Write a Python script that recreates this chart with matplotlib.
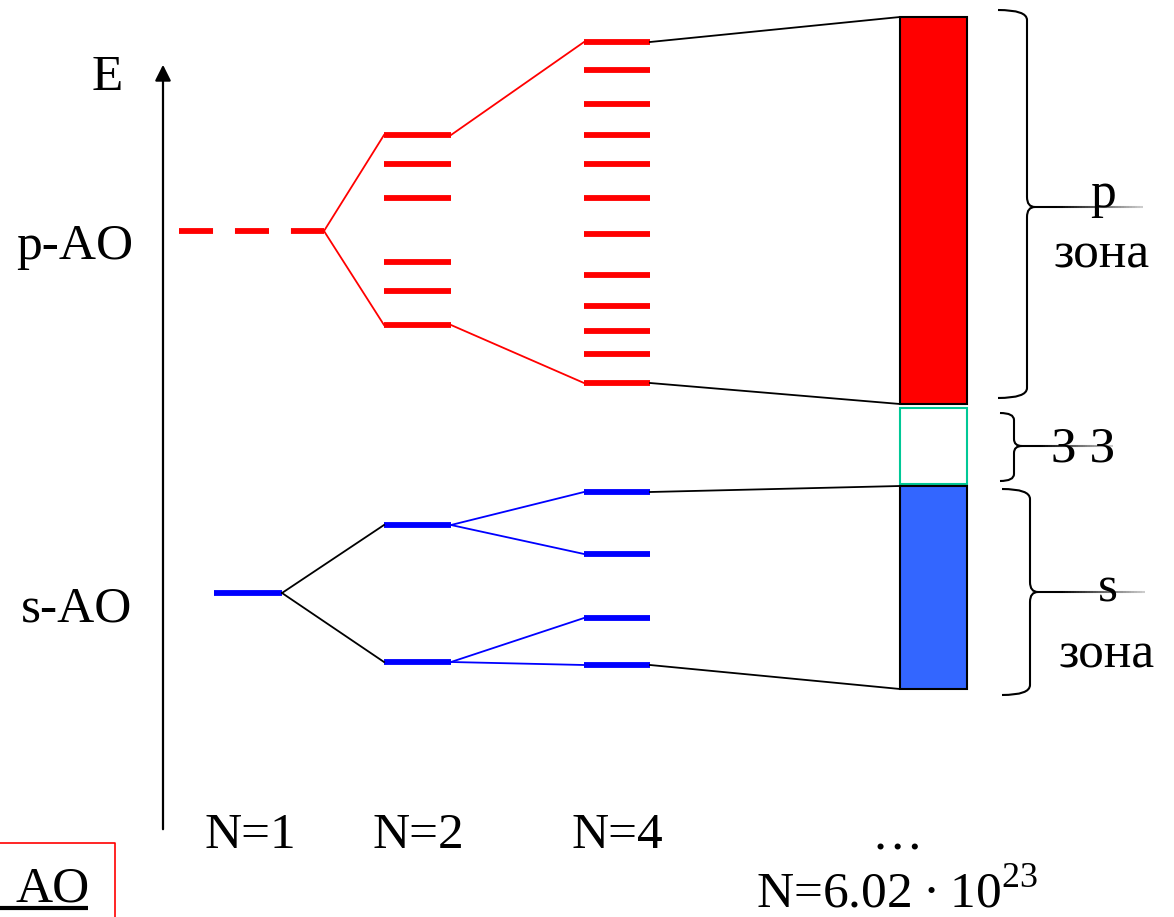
import matplotlib.pyplot as plt
import numpy as np
from matplotlib.path import Path
from matplotlib.patches import PathPatch, Rectangle
from matplotlib.collections import LineCollection

plt.rcParams['font.family'] = ['Liberation Serif', 'DejaVu Serif']
plt.rcParams['mathtext.fontset'] = 'custom'
plt.rcParams['mathtext.rm'] = 'Liberation Serif'
plt.rcParams['lines.scale_dashes'] = False

# energy levels (picture y, top = high energy)
p_ao = 231
p_levels_n2 = [135, 164, 198, 262, 291, 325]
p_levels_n4 = [42, 70, 104, 135, 164, 198, 234, 275, 306, 331, 354, 383]
s_ao = 593
s_levels_n2 = [525, 662]
s_levels_n4 = [492, 554, 618, 665]
p_band = (17, 404)
gap_band = (408, 484)
s_band = (486, 689)

col_labels = ['N=1', 'N=2', 'N=4']

# column x-ranges
x_n1_p = (179, 324)
x_n1_s = (214, 282)
x_n2 = (384, 451)
x_n4 = (584, 650)
x_band = (900, 967)

RED = '#ff0000'
BLUE = '#0000ff'
FS = 37

fig = plt.figure(figsize=(11.74, 9.17), dpi=100)
ax = fig.add_axes([0, 0, 1, 1])
ax.set_xlim(0, 1174)
ax.set_ylim(917, 0)
ax.axis('off')

# energy axis
ax.annotate('', xy=(163, 62), xytext=(163, 832),
            arrowprops=dict(arrowstyle='-|>', lw=1.6, color='black', mutation_scale=24))
ax.text(107, 90, 'E', fontsize=FS, ha='center', va='baseline')
ax.text(75, 259, 'p-AO', fontsize=FS, ha='center', va='baseline')
ax.text(77, 621, 's-AO', fontsize=FS, ha='center', va='baseline')

# p-AO dashed level
ax.plot(x_n1_p, [p_ao, p_ao], color=RED, lw=4.2, ls=(0, (24.5, 15.8)), solid_capstyle='butt',
        dash_capstyle='butt')
# s-AO level
ax.plot(x_n1_s, [s_ao, s_ao], color=BLUE, lw=4.2, solid_capstyle='butt')


def levels(xr, ys, color):
    for y in ys:
        ax.plot(xr, [y, y], color=color, lw=4.2, solid_capstyle='butt')


def link(x0, y0, x1, y1, color, lw=1.3):
    ax.plot([x0, x1], [y0, y1], color=color, lw=lw)


levels(x_n2, p_levels_n2, RED)
levels(x_n4, p_levels_n4, RED)
levels(x_n2, s_levels_n2, BLUE)
levels(x_n4, s_levels_n4, BLUE)

# p splitting
link(x_n1_p[1], p_ao, x_n2[0], p_levels_n2[0], RED)
link(x_n1_p[1], p_ao, x_n2[0], p_levels_n2[-1], RED)
link(x_n2[1], p_levels_n2[0], x_n4[0], p_levels_n4[0], RED)
link(x_n2[1], p_levels_n2[-1], x_n4[0], p_levels_n4[-1], RED)
link(x_n4[1], p_levels_n4[0], x_band[0], p_band[0], 'black')
link(x_n4[1], p_levels_n4[-1], x_band[0], p_band[1], 'black')

# s splitting
link(x_n1_s[1], s_ao, x_n2[0], s_levels_n2[0], 'black')
link(x_n1_s[1], s_ao, x_n2[0], s_levels_n2[1], 'black')
link(x_n2[1], s_levels_n2[0], x_n4[0], s_levels_n4[0], BLUE)
link(x_n2[1], s_levels_n2[0], x_n4[0], s_levels_n4[1], BLUE)
link(x_n2[1], s_levels_n2[1], x_n4[0], s_levels_n4[2], BLUE)
link(x_n2[1], s_levels_n2[1], x_n4[0], s_levels_n4[3], BLUE)
link(x_n4[1], s_levels_n4[0], x_band[0], s_band[0], 'black')
link(x_n4[1], s_levels_n4[-1], x_band[0], s_band[1], 'black')

# bands
w = x_band[1] - x_band[0]
ax.add_patch(Rectangle((x_band[0], p_band[0]), w, p_band[1] - p_band[0],
                       facecolor=RED, edgecolor='black', lw=1.5))
ax.add_patch(Rectangle((x_band[0], gap_band[0]), w, gap_band[1] - gap_band[0],
                       facecolor='white', edgecolor='#00c896', lw=1.5))
ax.add_patch(Rectangle((x_band[0], s_band[0]), w, s_band[1] - s_band[0],
                       facecolor='#3366ff', edgecolor='black', lw=1.5))


def brace(x_end, x_v, y_top, y_bot, y_tip, x_line_end, r=10):
    verts = [(x_end, y_top), (x_v, y_top), (x_v, y_top + r),
             (x_v, y_tip - r), (x_v, y_tip), (x_v + 8, y_tip),
             (x_v, y_tip), (x_v, y_tip + r),
             (x_v, y_bot - r), (x_v, y_bot), (x_end, y_bot)]
    codes = [Path.MOVETO, Path.CURVE3, Path.CURVE3,
             Path.LINETO, Path.CURVE3, Path.CURVE3,
             Path.CURVE3, Path.CURVE3,
             Path.LINETO, Path.CURVE3, Path.CURVE3]
    ax.add_patch(PathPatch(Path(verts, codes), facecolor='none', edgecolor='black', lw=1.5))
    # fading pointer line
    xs = np.linspace(x_v + 8, x_line_end, 40)
    segs = [[(xs[i], y_tip), (xs[i + 1], y_tip)] for i in range(len(xs) - 1)]
    t = np.linspace(0, 1, len(segs))
    alphas = np.clip(1.2 - t, 0.15, 1)
    cols = [(0, 0, 0, a) for a in alphas]
    ax.add_collection(LineCollection(segs, colors=cols, lw=1.5))


brace(998, 1027, 10, 398, 207, 1143)
brace(1000, 1014, 413, 481, 446, 1113, r=7)
brace(1002, 1030, 489, 695, 592, 1145)

ax.text(1103, 207, 'p', fontsize=FS, ha='center', va='baseline')
ax.text(1102, 267, 'зона', fontsize=FS, ha='center', va='baseline')
ax.text(1083, 462, 'З З', fontsize=FS, ha='center', va='baseline')
ax.text(1108, 602, 's', fontsize=FS, ha='center', va='baseline')
ax.text(1107, 667, 'зона', fontsize=FS, ha='center', va='baseline')

# column labels
for xc, lab in zip([250, 418, 617], col_labels):
    ax.text(xc, 848, lab, fontsize=FS, ha='center', va='baseline')
ax.text(897, 850, '…', fontsize=FS, ha='center', va='baseline')
ax.text(897, 908, 'N=6.02\u2009\u00b7\u200910$^{23}$', fontsize=FS, ha='center', va='baseline')

# AO box in the corner
ax.plot([0, 115, 115], [843, 843, 917], color=RED, lw=1.2)
ax.text(15, 902, 'AO', fontsize=FS, ha='left', va='baseline')
ax.plot([0, 88], [908, 908], color='black', lw=3, solid_capstyle='butt')

fig.savefig('out.png', dpi=100)
